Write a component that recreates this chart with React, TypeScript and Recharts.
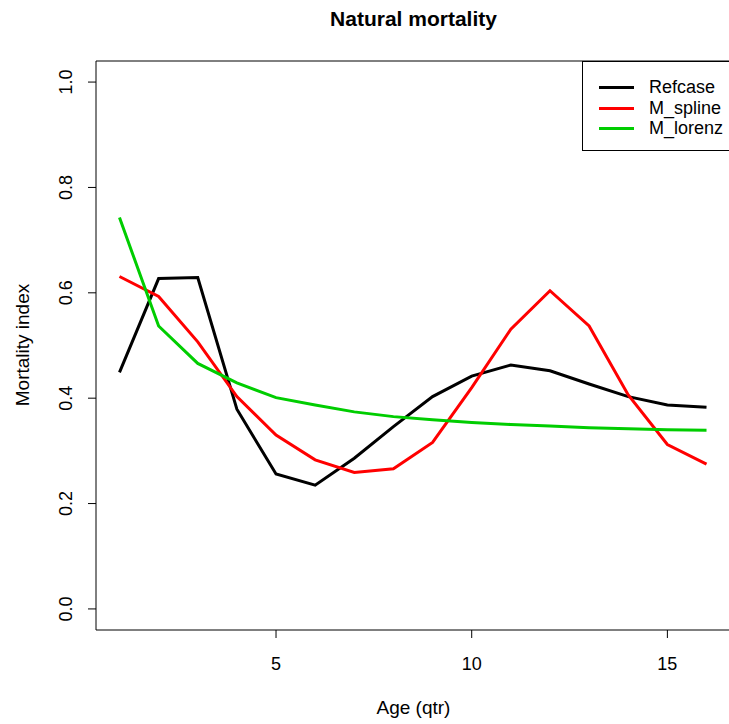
import React from 'react';
import {
  LineChart,
  Line,
  XAxis,
  YAxis,
  ReferenceArea,
  Legend,
} from 'recharts';

const ages = [1, 2, 3, 4, 5, 6, 7, 8, 9, 10, 11, 12, 13, 14, 15, 16];
const refcase = [0.449, 0.627, 0.629, 0.379, 0.256, 0.235, 0.286, 0.346, 0.403, 0.442, 0.463, 0.452, 0.427, 0.403, 0.387, 0.383];
const mSpline = [0.631, 0.593, 0.507, 0.403, 0.330, 0.283, 0.259, 0.266, 0.316, 0.420, 0.531, 0.604, 0.537, 0.406, 0.312, 0.275];
const mLorenz = [0.743, 0.537, 0.466, 0.429, 0.401, 0.387, 0.374, 0.365, 0.359, 0.354, 0.350, 0.347, 0.344, 0.342, 0.340, 0.339];
const xTicks = [5, 10, 15];
const yTicks = [0, 0.2, 0.4, 0.6, 0.8, 1.0];

const series = [
  { key: 'refcase', name: 'Refcase', color: '#000000' },
  { key: 'mSpline', name: 'M_spline', color: '#ff0000' },
  { key: 'mLorenz', name: 'M_lorenz', color: '#00cd00' },
];

const data = ages.map((age, i) => ({
  age,
  refcase: refcase[i],
  mSpline: mSpline[i],
  mLorenz: mLorenz[i],
}));

const FONT = '"Liberation Sans", Arial, sans-serif';

function XTick({ x, payload }: any) {
  return (
    <text x={x} y={664} textAnchor="middle" dominantBaseline="central" fontSize={18} fill="#000" fontFamily={FONT}>
      {payload.value}
    </text>
  );
}

function YTick({ y, payload }: any) {
  return (
    <text
      transform={`translate(66,${y}) rotate(-90)`}
      textAnchor="middle"
      dominantBaseline="central"
      fontSize={18}
      fill="#000"
      fontFamily={FONT}
    >
      {Number(payload.value).toFixed(1)}
    </text>
  );
}

function LegendBox() {
  return (
    <div
      style={{
        position: 'absolute',
        left: 582,
        top: 61,
        width: 160,
        height: 90,
        border: '1px solid #000',
        background: '#fff',
        boxSizing: 'border-box',
        fontFamily: FONT,
        fontSize: 18,
      }}
    >
      {series.map((s, i) => (
        <div key={s.key} style={{ position: 'absolute', left: 0, top: 14 + i * 20.7, height: 22, width: 160 }}>
          <div style={{ position: 'absolute', left: 16, top: 10, width: 35, height: 3, background: s.color }} />
          <div style={{ position: 'absolute', left: 66, top: 0, lineHeight: '22px', color: '#000' }}>{s.name}</div>
        </div>
      ))}
    </div>
  );
}

export default function App() {
  return (
    <div style={{ position: 'absolute', left: 0, top: 0, width: 729, height: 724, overflow: 'hidden', background: '#fff' }}>
      <div
        style={{
          position: 'absolute',
          left: 96,
          width: 635,
          top: 7,
          textAlign: 'center',
          fontFamily: FONT,
          fontWeight: 'bold',
          fontSize: 21,
        }}
      >
        Natural mortality
      </div>
      <div
        style={{
          position: 'absolute',
          left: 96,
          width: 635,
          top: 697,
          textAlign: 'center',
          fontFamily: FONT,
          fontSize: 19,
        }}
      >
        Age (qtr)
      </div>
      <LineChart width={731} height={724} data={data} margin={{ top: 61, right: 1, bottom: 0, left: 0 }}>
        <XAxis
          dataKey="age"
          type="number"
          domain={[0.4, 16.6]}
          ticks={xTicks}
          axisLine={false}
          tickLine={{ stroke: '#000' }}
          tickSize={8}
          tick={<XTick />}
          height={94}
          allowDataOverflow
        />
        <YAxis
          type="number"
          domain={[-0.04, 1.04]}
          ticks={yTicks}
          axisLine={false}
          tickLine={{ stroke: '#000' }}
          tickSize={8}
          tick={<YTick />}
          width={96}
          allowDataOverflow
          label={() => (
            <text
              transform="translate(22,345) rotate(-90)"
              textAnchor="middle"
              dominantBaseline="central"
              fontSize={19}
              fill="#000"
              fontFamily={FONT}
            >
              Mortality index
            </text>
          )}
        />
        <ReferenceArea x1={0.4} x2={16.6} y1={-0.04} y2={1.04} fill="none" stroke="#000" strokeWidth={1} />
        {series.map((s) => (
          <Line
            key={s.key}
            type="linear"
            dataKey={s.key}
            name={s.name}
            stroke={s.color}
            strokeWidth={3}
            dot={false}
            isAnimationActive={false}
          />
        ))}
        <Legend content={() => <LegendBox />} wrapperStyle={{ position: 'absolute', left: 0, top: 0, width: 0, height: 0 }} />
      </LineChart>
    </div>
  );
}
